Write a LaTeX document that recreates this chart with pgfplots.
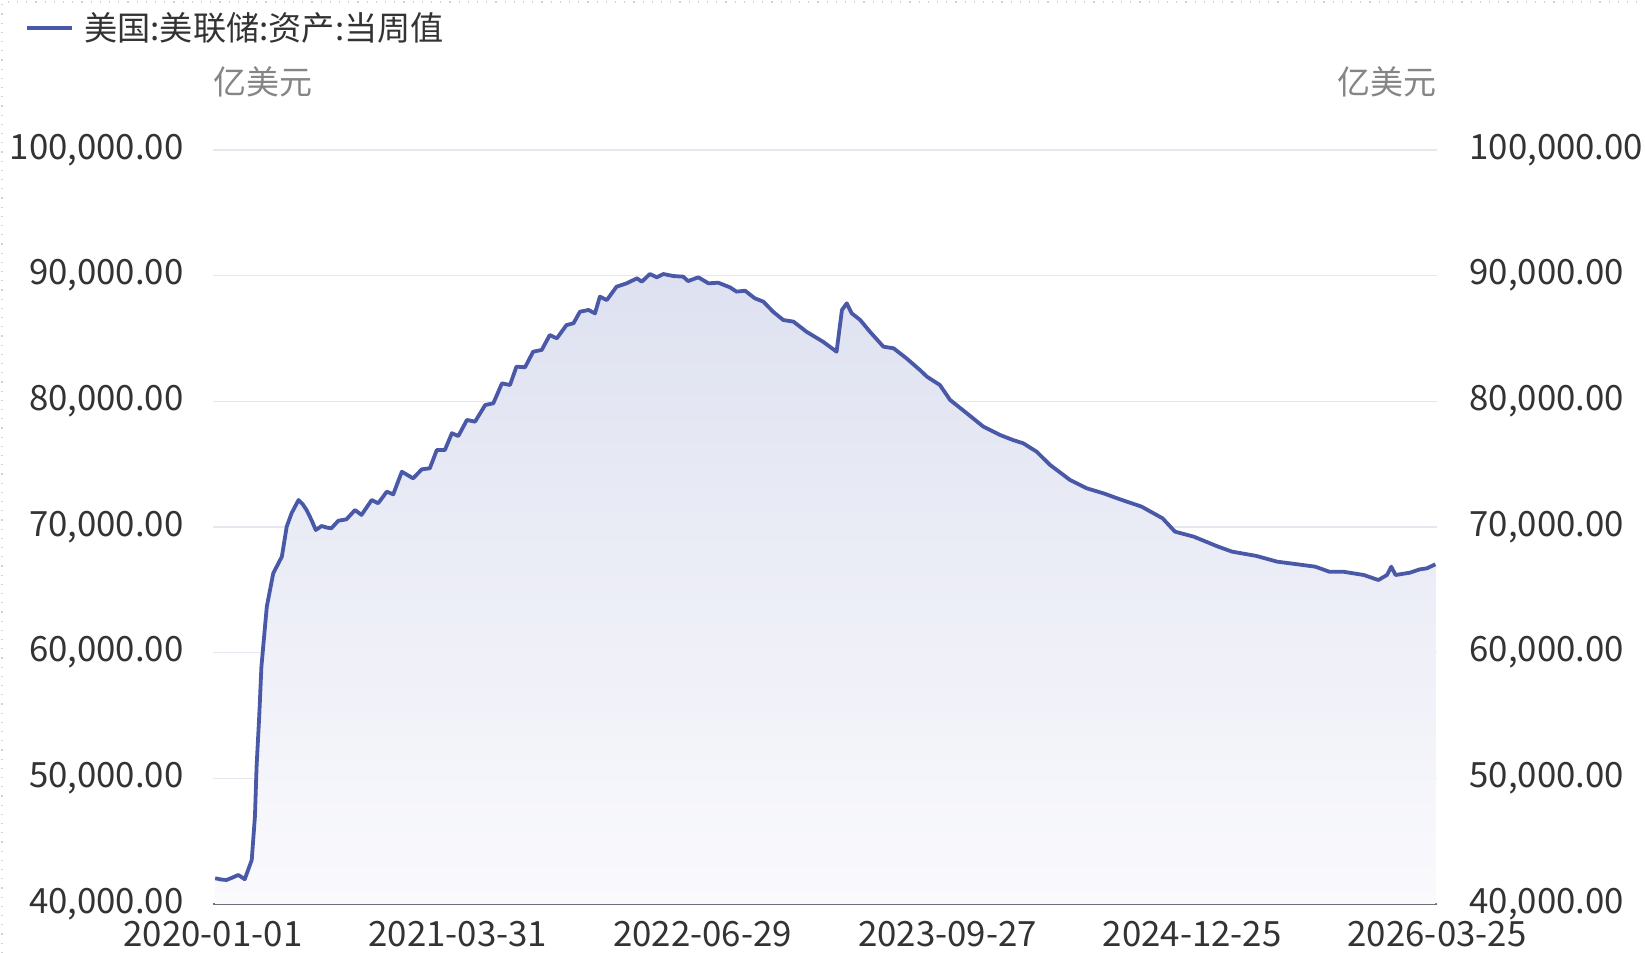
\documentclass[border=0pt]{standalone}
\usepackage{fontspec}
\setmainfont{Noto Sans CJK SC}
\usepackage{pgfplots}
\usepackage{pgfplotstable}
\pgfplotsset{compat=1.18}
\definecolor{linec}{HTML}{4A59A7}
\definecolor{tickc}{HTML}{333333}
\definecolor{unitc}{HTML}{858585}
\definecolor{gridc}{HTML}{E6E8EF}
\definecolor{axisc}{HTML}{6E7079}
\definecolor{areatop}{HTML}{DEE1F0}
\definecolor{areabot}{HTML}{FAFAFD}
\pgfplotstableread{
d v
4 42050
15 41950
25 41910
36 42100
47 42310
59 41970
72 43500
78 47000
81 50930
86 55000
90 58890
100 63660
112 66320
128 67640
137 70030
146 71090
159 72150
167 71800
174 71350
183 70560
191 69760
202 70080
212 69950
220 69900
233 70500
248 70610
264 71350
276 70960
295 72150
307 71890
323 72810
335 72600
351 74400
372 73870
388 74590
403 74670
416 76130
431 76130
444 77460
456 77240
472 78520
487 78380
506 79710
521 79840
537 81430
552 81300
564 82760
580 82710
595 83950
611 84090
626 85280
639 85010
657 86070
670 86210
682 87130
698 87270
710 87000
719 88330
732 88060
750 89120
769 89390
788 89790
797 89520
812 90130
825 89870
837 90130
856 89970
874 89920
883 89570
902 89870
921 89390
939 89440
961 89070
973 88730
989 88800
1007 88200
1023 87930
1041 87130
1060 86470
1079 86340
1103 85540
1134 84740
1159 83950
1169 87270
1178 87800
1187 87010
1203 86470
1221 85540
1246 84350
1265 84220
1289 83420
1314 82490
1327 81960
1351 81300
1370 80110
1401 79050
1432 77980
1463 77320
1487 76920
1506 76660
1531 75990
1556 74930
1593 73740
1624 73080
1655 72680
1686 72200
1726 71620
1765 70690
1788 69630
1823 69230
1868 68440
1894 68040
1939 67700
1978 67240
2016 67030
2049 66840
2075 66440
2101 66440
2139 66180
2166 65780
2182 66180
2190 66840
2198 66180
2224 66360
2243 66630
2256 66710
2272 67030
}\fedtable
\begin{document}
\begin{tikzpicture}
\path[use as bounding box] (-106.5pt,-24.5pt) rectangle (716pt,452pt);
\draw[black!18, line width=0.6pt, dash pattern=on 0.6pt off 4pt] (-105.5pt,-24.5pt) -- (-105.5pt,451pt) -- (716pt,451pt);
\begin{axis}[
  name=main, at={(0pt,0pt)}, anchor=south west,
  scale only axis, width=612pt, height=377pt,
  xmin=0, xmax=2275, ymin=40000, ymax=100000,
  xtick={0,455,910,1365,1820,2275},
  xticklabels={2020-01-01,2021-03-31,2022-06-29,2023-09-27,2024-12-25,2026-03-25},
  ytick={40000,50000,60000,70000,80000,90000,100000},
  /pgf/number format/.cd, fixed, fixed zerofill, precision=2, 1000 sep={,}, assume math mode=true,
  /pgfplots/.cd,
  scaled y ticks=false,
  major tick length=0pt,
  axis x line*=bottom, axis y line*=left,
  x axis line style={draw=axisc, line width=1pt, -},
  y axis line style={draw=none},
  ymajorgrids, major grid style={draw=gridc, line width=0.6pt},
  tick label style={font=\fontsize{17.4}{17.4}\selectfont, text=tickc},
  yticklabel style={inner sep=0pt, anchor=east, xshift=-14.5pt},
  xticklabel style={inner sep=0pt, anchor=north, yshift=-8.5pt},
  legend style={at={(axis description cs:-0.1535,1.1618)}, anchor=west, draw=none, fill=none,
    inner sep=0pt, font=\fontsize{16.6}{16.6}\selectfont, text=tickc, nodes={inner sep=0pt},
    /tikz/every odd column/.append style={column sep=5pt}},
  legend cell align=left,
  legend image code/.code={\draw[#1] (0pt,0pt) -- (22.5pt,0pt);},
  clip=false,
]
\addplot[draw=none, top color=areatop, bottom color=areabot, forget plot]
  table[x=d, y=v] {\fedtable} |- (axis cs:4,40000) -- cycle;
\addplot[color=linec, line width=1.9pt, line join=round, no marks] table[x=d, y=v] {\fedtable};
\addlegendentry{美国:美联储:资产:当周值}
\end{axis}
\begin{axis}[
  at={(0pt,0pt)}, anchor=south west,
  scale only axis, width=612pt, height=377pt,
  xmin=0, xmax=2275, ymin=40000, ymax=100000,
  ytick={40000,50000,60000,70000,80000,90000,100000},
  /pgf/number format/.cd, fixed, fixed zerofill, precision=2, 1000 sep={,}, assume math mode=true,
  /pgfplots/.cd,
  scaled y ticks=false,
  major tick length=0pt,
  hide x axis,
  axis y line*=right,
  y axis line style={draw=none},
  tick label style={font=\fontsize{17.4}{17.4}\selectfont, text=tickc},
  yticklabel style={inner sep=0pt, anchor=west, xshift=16pt},
]
\addplot[draw=none, forget plot] coordinates {(0,40000)};
\end{axis}
\node[anchor=west, inner sep=0pt, text=unitc, font=\fontsize{16.5}{16.5}\selectfont] at (0pt,411pt) {亿美元};
\node[anchor=east, inner sep=0pt, text=unitc, font=\fontsize{16.5}{16.5}\selectfont] at (612pt,411pt) {亿美元};
\end{tikzpicture}
\end{document}
